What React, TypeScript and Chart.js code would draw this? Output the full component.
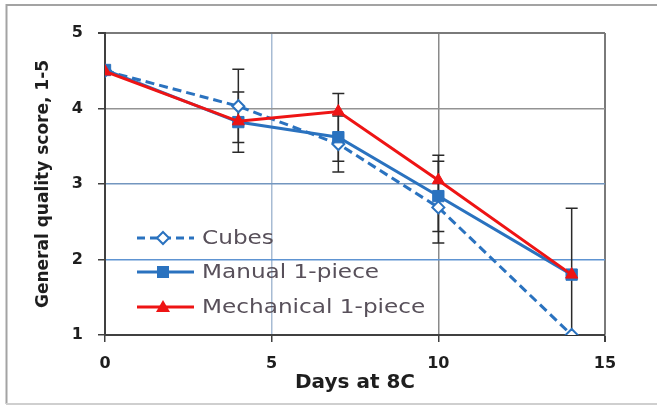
import React, { useEffect, useRef } from "react";
import { Chart, registerables } from "chart.js";

Chart.register(...registerables);

// ---- data ----
const days = [0, 4, 7, 10, 14];
const seriesNames = ["Cubes", "Manual 1-piece", "Mechanical 1-piece"];
const cubes = [4.5, 4.03, 3.53, 2.69, 1.0];
const manual = [4.51, 3.82, 3.62, 2.84, 1.8];
const mechanical = [4.49, 3.83, 3.96, 3.05, 1.8];

// error bars (low / high), null = no bar
const cubesLow = [null, 3.55, 3.16, 2.22, null];
const cubesHigh = [null, 4.52, 3.9, 3.3, null];
const manualLow = [null, 3.42, null, null, 1.0];
const manualHigh = [null, 4.22, null, null, 2.68];
const mechanicalLow = [null, null, 3.3, 2.37, null];
const mechanicalHigh = [null, null, 4.2, 3.38, null];

const xTicks = [0, 5, 10, 15];
const yTicks = [1, 2, 3, 4, 5];
const xTitle = "Days at 8C";
const yTitle = "General quality score, 1-5";

const BLUE = "#2a72bf";
const RED = "#ee1414";

const yGridColors: Record<number, string> = { 5: "#7a7a7a", 4: "#939393", 3: "#7396bf", 2: "#5e94d2", 1: "#404040" };
const xGridColors: Record<number, string> = { 0: "#404040", 5: "#a7bbd3", 10: "#8a8a8a", 15: "#7a7a7a" };

const errorSets = [
  { low: cubesLow, high: cubesHigh },
  { low: manualLow, high: manualHigh },
  { low: mechanicalLow, high: mechanicalHigh },
];

const framePlugin = {
  id: "frame",
  beforeDraw(chart: any) {
    const { ctx, width, height } = chart;
    ctx.save();
    ctx.fillStyle = "#ffffff";
    ctx.fillRect(0, 0, width, height);
    ctx.strokeStyle = "#a3a3a3";
    ctx.lineWidth = 2;
    ctx.beginPath();
    ctx.moveTo(width, 5);
    ctx.lineTo(6.5, 5);
    ctx.lineTo(6.5, height - 2);
    ctx.stroke();
    ctx.strokeStyle = "#cfcfcf";
    ctx.beginPath();
    ctx.moveTo(6, height - 2);
    ctx.lineTo(width, height - 2);
    ctx.stroke();
    ctx.restore();
  },
};

const errorBarPlugin = {
  id: "errorBars",
  beforeDatasetsDraw(chart: any) {
    const { ctx } = chart;
    const x = chart.scales.x;
    const y = chart.scales.y;
    ctx.save();
    ctx.strokeStyle = "#2a2a2a";
    ctx.lineWidth = 1.5;
    errorSets.forEach(({ low, high }) => {
      days.forEach((d, i) => {
        const lo = low[i];
        const hi = high[i];
        if (lo == null || hi == null) return;
        const px = x.getPixelForValue(d);
        const y1 = y.getPixelForValue(lo);
        const y2 = y.getPixelForValue(hi);
        ctx.beginPath();
        ctx.moveTo(px, y1);
        ctx.lineTo(px, y2);
        ctx.moveTo(px - 6, y1);
        ctx.lineTo(px + 6, y1);
        ctx.moveTo(px - 6, y2);
        ctx.lineTo(px + 6, y2);
        ctx.stroke();
      });
    });
    ctx.restore();
  },
};

const legendPlugin = {
  id: "insideLegend",
  afterDatasetsDraw(chart: any) {
    const { ctx } = chart;
    const rows = [238, 272, 307];
    const x0 = 137;
    const x1 = 194;
    const mx = 163;
    ctx.save();
    // Cubes
    ctx.strokeStyle = BLUE;
    ctx.lineWidth = 3;
    ctx.setLineDash([8, 5]);
    ctx.beginPath();
    ctx.moveTo(x0, rows[0]);
    ctx.lineTo(x1, rows[0]);
    ctx.stroke();
    ctx.setLineDash([]);
    ctx.fillStyle = "#ffffff";
    ctx.lineWidth = 2;
    ctx.beginPath();
    ctx.moveTo(mx, rows[0] - 6);
    ctx.lineTo(mx + 6, rows[0]);
    ctx.lineTo(mx, rows[0] + 6);
    ctx.lineTo(mx - 6, rows[0]);
    ctx.closePath();
    ctx.fill();
    ctx.stroke();
    // Manual
    ctx.lineWidth = 3;
    ctx.beginPath();
    ctx.moveTo(x0, rows[1]);
    ctx.lineTo(x1, rows[1]);
    ctx.stroke();
    ctx.fillStyle = BLUE;
    ctx.fillRect(mx - 6, rows[1] - 6, 12, 12);
    // Mechanical
    ctx.strokeStyle = RED;
    ctx.beginPath();
    ctx.moveTo(x0, rows[2]);
    ctx.lineTo(x1, rows[2]);
    ctx.stroke();
    ctx.fillStyle = RED;
    ctx.beginPath();
    ctx.moveTo(mx, rows[2] - 7);
    ctx.lineTo(mx + 7, rows[2] + 5);
    ctx.lineTo(mx - 7, rows[2] + 5);
    ctx.closePath();
    ctx.fill();
    // texts
    ctx.fillStyle = "#58505a";
    ctx.font = '19px "DejaVu Sans"';
    ctx.textBaseline = "middle";
    ctx.textAlign = "left";
    seriesNames.forEach((name, i) => {
      ctx.save();
      ctx.translate(202, rows[i] + 1);
      ctx.scale(1.22, 1);
      ctx.fillText(name, 0, 0);
      ctx.restore();
    });
    ctx.restore();
  },
};

export default function App() {
  const ref = useRef<HTMLCanvasElement | null>(null);

  useEffect(() => {
    document.body.style.margin = "0";
    const canvas = ref.current;
    if (!canvas) return;
    const chart = new Chart(canvas, {
      type: "line",
      data: {
        datasets: [
          {
            label: seriesNames[0],
            data: days.map((d, i) => ({ x: d, y: cubes[i] })),
            borderColor: BLUE,
            borderWidth: 3,
            borderDash: [9, 5],
            pointStyle: "rectRot",
            pointRadius: 6,
            pointBackgroundColor: "#ffffff",
            pointBorderColor: BLUE,
            pointBorderWidth: 2,
            order: 2,
          },
          {
            label: seriesNames[1],
            data: days.map((d, i) => ({ x: d, y: manual[i] })),
            borderColor: BLUE,
            borderWidth: 3,
            pointStyle: "rect",
            pointRadius: 8,
            pointBackgroundColor: BLUE,
            pointBorderColor: BLUE,
            pointBorderWidth: 1,
            order: 1,
          },
          {
            label: seriesNames[2],
            data: days.map((d, i) => ({ x: d, y: mechanical[i] })),
            borderColor: RED,
            borderWidth: 3,
            pointStyle: "triangle",
            pointRadius: 7,
            pointBackgroundColor: RED,
            pointBorderColor: RED,
            pointBorderWidth: 1,
            order: 0,
          },
        ],
      },
      options: {
        responsive: false,
        animation: false,
        layout: { padding: { left: 0, right: 52, top: 33, bottom: 0 } },
        plugins: { legend: { display: false }, tooltip: { enabled: false } },
        scales: {
          x: {
            type: "linear",
            min: 0,
            max: 15,
            afterBuildTicks: (s: any) => {
              s.ticks = xTicks.map((v) => ({ value: v }));
            },
            afterFit: (s: any) => {
              s.height = 71;
            },
            ticks: {
              padding: 12,
              color: "#1e1e1e",
              font: { family: "DejaVu Sans", size: 16, weight: "bold" },
            },
            grid: {
              color: (c: any) => xGridColors[c.tick?.value] ?? "#888",
              lineWidth: (c: any) => (c.tick?.value === 15 ? 2 : 1.5),
              tickColor: "#404040",
              tickLength: 7,
            },
            border: { color: "#404040", width: 2 },
            title: {
              display: true,
              text: xTitle,
              color: "#1e1e1e",
              font: { family: "DejaVu Sans", size: 20, weight: "bold" },
              padding: { top: 0, bottom: 11 },
            },
          },
          y: {
            type: "linear",
            min: 1,
            max: 5,
            afterBuildTicks: (s: any) => {
              s.ticks = yTicks.map((v) => ({ value: v }));
            },
            afterFit: (s: any) => {
              s.width = 105;
            },
            ticks: {
              padding: 15,
              color: "#1e1e1e",
              font: { family: "DejaVu Sans", size: 16, weight: "bold" },
            },
            grid: {
              color: (c: any) => yGridColors[c.tick?.value] ?? "#888",
              lineWidth: (c: any) => (c.tick?.value === 5 ? 2 : 1.5),
              tickColor: "#404040",
              tickLength: 7,
            },
            border: { color: "#404040", width: 2 },
            title: {
              display: true,
              text: yTitle,
              color: "#1e1e1e",
              font: { family: "DejaVu Sans", size: 17, weight: "bold" },
              padding: { top: 33, bottom: 0 },
            },
          },
        },
      },
      plugins: [framePlugin, errorBarPlugin, legendPlugin],
    } as any);
    return () => chart.destroy();
  }, []);

  return (
    <canvas
      ref={ref}
      width={657}
      height={406}
      style={{ display: "block", width: 657, height: 406 }}
    />
  );
}
